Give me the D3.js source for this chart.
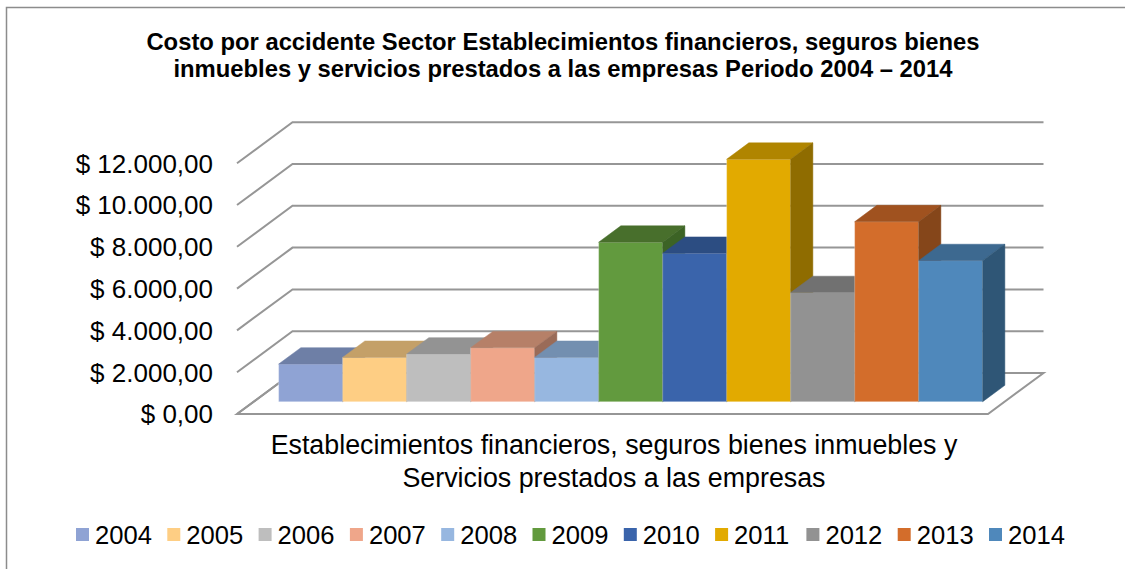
<!DOCTYPE html>
<html>
<head>
<meta charset="utf-8">
<script src="https://cdn.jsdelivr.net/npm/d3@7"></script>
<style>
  html, body { margin: 0; padding: 0; background: #fff; }
  svg { display: block; font-family: "Liberation Sans", Arial, sans-serif; }
</style>
</head>
<body>
<svg id="chart" width="1125" height="569"></svg>
<script>
// Cost per accident, financial / insurance / real estate / business services sector
const years = ["2004", "2005", "2006", "2007", "2008", "2009", "2010", "2011", "2012", "2013", "2014"];
const costs = [1800, 2120, 2280, 2580, 2120, 7630, 7100, 11600, 5220, 8610, 6750];
const yTicks = [0, 2000, 4000, 6000, 8000, 10000, 12000];
const titleLines = [
  "Costo por accidente Sector Establecimientos financieros, seguros bienes",
  "inmuebles y servicios prestados a las empresas Periodo 2004 \u2013 2014"
];
const categoryLines = [
  "Establecimientos financieros, seguros bienes inmuebles y",
  "Servicios prestados a las empresas"
];

// face colours per year: front, top, side
const frontColors = ["#8FA3D4", "#FECE84", "#BEBEBE", "#EFA68A", "#97B7E0", "#629A3E", "#3A64AB", "#E2AA00", "#929292", "#D36D2B", "#4F88BB"];
const topColors   = ["#6E7FA6", "#C4A068", "#939393", "#B68068", "#738FB0", "#486F2C", "#2C4D82", "#B08500", "#717171", "#A0521F", "#3D6990"];
const sideColors  = ["#5B6A8C", "#A68657", "#7C7C7C", "#9A6B58", "#5F7893", "#3C6325", "#25416E", "#8F6C00", "#5E5E5E", "#85461A", "#2F5676"];

const svg = d3.select("#chart");

// outer chart border
svg.append("path")
  .attr("d", "M6.5,575 L6.5,7.5 L1130,7.5")
  .attr("fill", "none").attr("stroke", "#8c8c8c").attr("stroke-width", 1.5);

// oblique projection: z = 0 front of floor, z = 1 back wall
const depth = { dx: 55.5, dy: -41 };
const floorX0 = 237, floorX1 = 988;
const x = d3.scaleBand().domain(years).range([262, 966]).paddingInner(0).paddingOuter(0);
const y = d3.scaleLinear().domain([0, 12000]).range([414, 163.2]);
const P = (px, v, z) => [px + z * depth.dx, y(v) + z * depth.dy];
const poly = pts => "M" + pts.map(p => p.join(",")).join("L") + "Z";

const grid = svg.append("g");
// floor
grid.append("path")
  .attr("d", poly([P(floorX0, 0, 0), P(floorX0, 0, 1), P(floorX1, 0, 1), P(floorX1, 0, 0)]))
  .attr("fill", "#fff").attr("stroke", "#969696").attr("stroke-width", 2);
// gridlines on the side and back walls
yTicks.forEach(v => {
  const a = P(floorX0, v, 0), b = P(floorX0, v, 1), c = P(floorX1, v, 1);
  grid.append("path")
    .attr("d", `M${a}L${b}L${c}`)
    .attr("fill", "none").attr("stroke", "#969696").attr("stroke-width", 2);
});

// value axis labels
const fmt = v => "$ " + d3.format(",.2f")(v).replace(/,/g, "#").replace(/\./g, ",").replace(/#/g, ".");
svg.append("g").selectAll("text").data(yTicks).join("text")
  .attr("x", 213).attr("y", d => y(d)).attr("dy", "0.36em")
  .attr("text-anchor", "end").attr("font-size", 26).attr("fill", "#000")
  .text(fmt);

// bars (left to right so each bar covers its neighbour's hidden side)
const z0 = 0.3, z1 = 0.7;
const bars = svg.append("g");
years.forEach((yr, i) => {
  const v = costs[i];
  const xl = x(yr), xr = x(yr) + x.bandwidth();
  const g = bars.append("g");
  // front face
  g.append("path").attr("d", poly([P(xl, 0, z0), P(xl, v, z0), P(xr, v, z0), P(xr, 0, z0)]))
    .attr("fill", frontColors[i]).attr("stroke", "rgba(255,255,255,0.35)").attr("stroke-width", 0.8);
  // top face
  g.append("path").attr("d", poly([P(xl, v, z0), P(xl, v, z1), P(xr, v, z1), P(xr, v, z0)]))
    .attr("fill", topColors[i]).attr("stroke", topColors[i]).attr("stroke-width", 0.5);
  // right side face
  g.append("path").attr("d", poly([P(xr, 0, z0), P(xr, v, z0), P(xr, v, z1), P(xr, 0, z1)]))
    .attr("fill", sideColors[i]).attr("stroke", sideColors[i]).attr("stroke-width", 0.5);
});

// title
svg.append("g").selectAll("text").data(titleLines).join("text")
  .attr("x", 563).attr("y", (d, i) => 49.5 + i * 27)
  .attr("text-anchor", "middle").attr("font-size", 23.8).attr("font-weight", "bold").attr("fill", "#000")
  .text(d => d);

// category label
svg.append("g").selectAll("text").data(categoryLines).join("text")
  .attr("x", 614).attr("y", (d, i) => 454 + i * 33)
  .attr("text-anchor", "middle").attr("font-size", 26.8).attr("fill", "#000")
  .text(d => d);

// legend
const legend = svg.append("g").selectAll("g").data(years).join("g")
  .attr("transform", (d, i) => `translate(${76 + i * 91.3},0)`);
legend.append("rect").attr("x", 0).attr("y", 528).attr("width", 13).attr("height", 13)
  .attr("fill", (d, i) => frontColors[i]);
legend.append("text").attr("x", 19).attr("y", 544).attr("font-size", 25.6).attr("fill", "#000")
  .text(d => d);
</script>
</body>
</html>
